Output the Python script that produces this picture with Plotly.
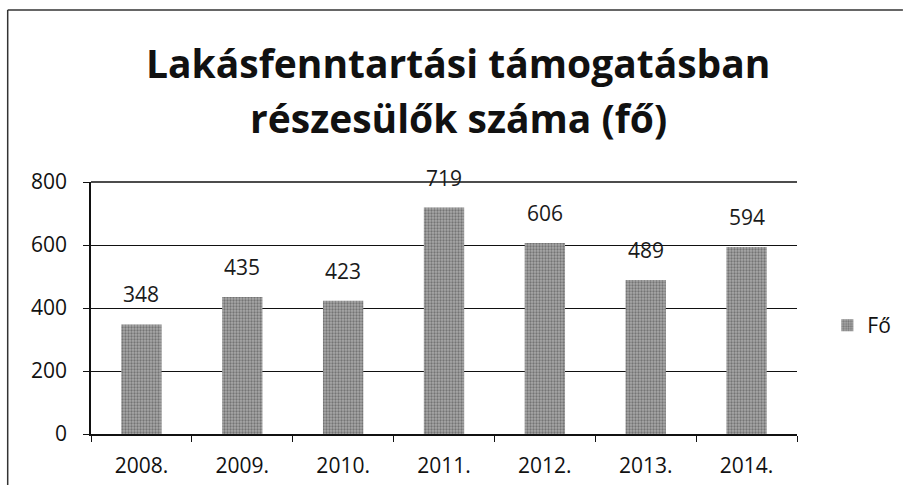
import plotly.graph_objects as go

years = ["2008.", "2009.", "2010.", "2011.", "2012.", "2013.", "2014."]
values = [348, 435, 423, 719, 606, 489, 594]
series_name = "Fő"
title_lines = ["Lakásfenntartási támogatásban", "részesülők száma (fő)"]

FONT = "Open Sans"
fig = go.Figure()
fig.add_trace(go.Bar(
    x=years, y=values, name=series_name,
    marker=dict(color="#848484", line=dict(width=0),
                pattern=dict(shape=".", fgcolor="#404040", bgcolor="#a8a8a8", size=3, solidity=0.45)),
    width=0.4,
))

annotations = [
    dict(text=title_lines[0], xref="paper", yref="paper", x=0.52, y=1.476, xanchor="center", yanchor="middle",
         showarrow=False, font=dict(family=FONT, size=39, color="#111", weight="bold")),
    dict(text=title_lines[1], xref="paper", yref="paper", x=0.52, y=1.254, xanchor="center", yanchor="middle",
         showarrow=False, font=dict(family=FONT, size=39, color="#111", weight="bold")),
]
for i, (yr, v) in enumerate(zip(years, values)):
    annotations.append(dict(text=str(v), x=i, y=v, xref="x", yref="y", yanchor="bottom",
                            yshift=14, showarrow=False,
                            font=dict(family=FONT, size=21, color="#1a1a1a")))

fig.update_layout(
    width=908, height=493,
    margin=dict(l=91, r=106, t=182, b=59),
    paper_bgcolor="white", plot_bgcolor="white",
    showlegend=True,
    legend=dict(x=1.043, y=0.43, xanchor="left", yanchor="middle",
                font=dict(family=FONT, size=21, color="#111")),
    xaxis=dict(type="category", showgrid=False, ticks="outside", tickson="boundaries", ticklen=6,
               tickcolor="#111", showline=True, linecolor="#111", linewidth=1.5,
               ticklabelstandoff=12, tickangle=0,
               tickfont=dict(family=FONT, size=21, color="#111")),
    yaxis=dict(range=[0, 800], tickvals=[0, 200, 400, 600, 800], showgrid=True,
               gridcolor="#111", gridwidth=1.3, ticks="outside", ticklen=6,
               tickcolor="#111", showline=True, linecolor="#111", linewidth=1.5,
               zeroline=False, ticklabelstandoff=12,
               tickfont=dict(family=FONT, size=21, color="#111")),
    annotations=annotations,
    shapes=[
        dict(type="line", xref="paper", yref="paper", x0=0, x1=1, y0=1, y1=1,
             line=dict(color="#111", width=1.3)),
        dict(type="line", xref="paper", yref="paper", x0=-0.118, x1=-0.118, y0=-0.202, y1=1.683,
             line=dict(color="#333", width=1.5)),
        dict(type="line", xref="paper", yref="paper", x0=-0.118, x1=1.15, y0=1.683, y1=1.683,
             line=dict(color="#333", width=1.5)),
    ],
)
fig.write_html("out.html", config={"displayModeBar": False},
               post_script="document.body.style.margin='0';document.body.style.padding='0';")
